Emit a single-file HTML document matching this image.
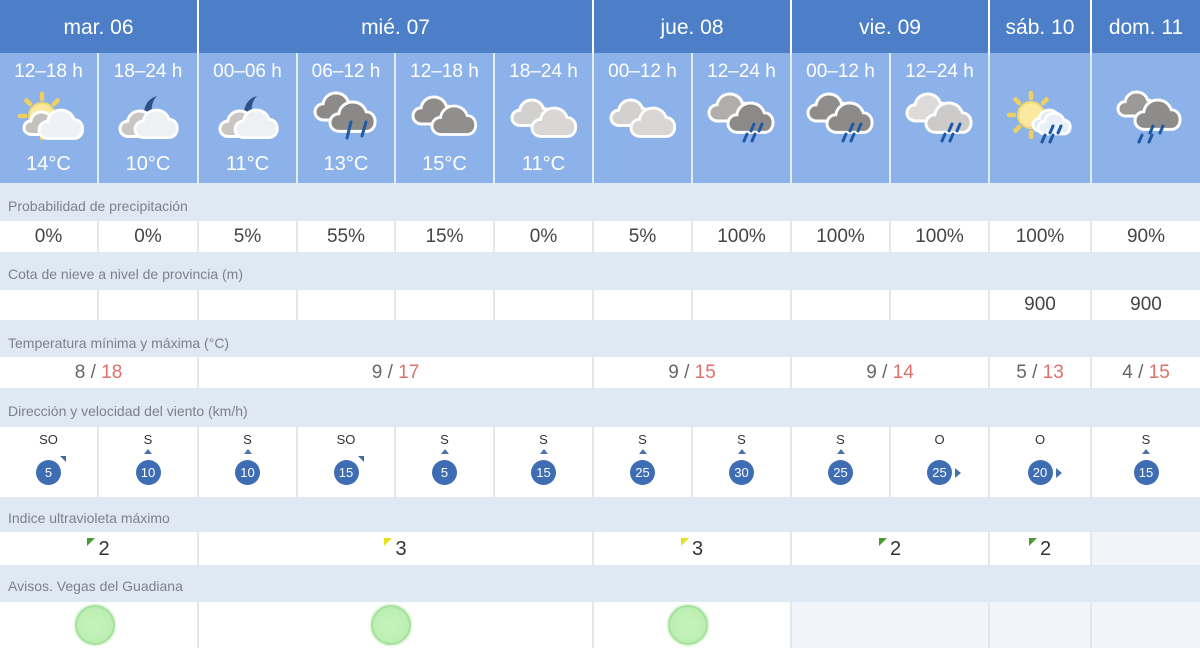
<!DOCTYPE html>
<html><head><meta charset="utf-8">
<style>
*{margin:0;padding:0;box-sizing:border-box}
html,body{width:1200px;height:658px;overflow:hidden;background:#fff;font-family:"Liberation Sans",Arial,sans-serif}
.a{position:absolute}
.hd{top:0;height:53px;background:#4d7ec8;color:#fff;font-size:21px;line-height:56px;text-align:center}
.ic{top:53px;height:130px;background:#8db2e9}
.sh{top:60px;height:24px;color:#fff;font-size:19px;line-height:24px;text-align:center}
.tp{top:152px;height:24px;color:#fff;font-size:20px;line-height:24px;text-align:center}
.lb{left:0;width:1200px;background:#dfe9f3}
.lt{left:8px;font-size:14px;line-height:20px;color:#7d8288;white-space:nowrap}
.vs{left:0;width:1200px;background:#e3e7eb}
.vc{background:#fff;text-align:center;color:#444;font-size:19px;line-height:24px}
.wd{top:432px;width:60px;text-align:center;font-size:13px;line-height:16px;color:#333}
.wc{top:460px;width:25px;height:25px;border-radius:50%;background:#3e6db4;color:#fff;font-size:13px;line-height:25px;text-align:center}
.up{top:449px;width:0;height:0;border-left:4px solid transparent;border-right:4px solid transparent;border-bottom:5px solid #4a72aa}
.ne{top:456px;width:0;height:0;border-top:6px solid #46699c;border-left:6px solid transparent}
.rt{top:468px;width:0;height:0;border-top:5px solid transparent;border-bottom:5px solid transparent;border-left:6px solid #4a72aa}
.mx{color:#e0706a}
.mn{color:#666}
.uv{top:537px;height:24px;font-size:20px;line-height:24px;color:#333;text-align:center}
.tri{display:inline-block;width:0;height:0;border-top:8px solid #4a9b2f;border-right:8px solid transparent;vertical-align:top;margin-top:1px;margin-right:3px}
.ty{border-top-color:#e4e41e}
.gc{top:605px;width:40px;height:40px;border-radius:50%;background:radial-gradient(circle,#c6f3bd 0%,#bdf0b3 60%,#aee6a4 100%);border:2px solid #a6e19d;box-shadow:0 0 3px #b2e6aa}
svg.i{position:absolute;top:88px;width:80px;height:60px}
</style></head><body>

<svg width="0" height="0" style="position:absolute">
<defs>
<path id="cl" d="M10,30 C4,30 0,26 0,21 C0,16 4,12 9,12 C10,5 16,0 23,0 C30,0 35,4 37,10 C42,10 46,14 46,20 C46,26 42,30 37,30 Z"/>
<g id="dr4" stroke="#1d59a8" stroke-width="3" stroke-linecap="round">
<path d="M52,36 L49,43"/><path d="M60,36 L57,43"/><path d="M45,46 L42,53"/><path d="M53,46 L50,53"/>
</g>
<path id="moon" d="M0,16 C1,7 6,2 13,0 C9,4 7,10 8,16 Z" fill="#2c5289"/>
</defs>
</svg>

<!-- header groups -->
<div class="a hd" style="left:0;width:197px">mar. 06</div>
<div class="a hd" style="left:199px;width:393px">mié. 07</div>
<div class="a hd" style="left:594px;width:196px">jue. 08</div>
<div class="a hd" style="left:792px;width:196px">vie. 09</div>
<div class="a hd" style="left:990px;width:100px">sáb. 10</div>
<div class="a hd" style="left:1092px;width:108px">dom. 11</div>

<!-- icon row strip -->
<div class="a" style="left:0;top:53px;width:1200px;height:130px;background:#e3edfa"></div>
<div class="a ic" style="left:0;width:97px"></div>
<div class="a ic" style="left:99px;width:98px"></div>
<div class="a ic" style="left:199px;width:97px"></div>
<div class="a ic" style="left:298px;width:96px"></div>
<div class="a ic" style="left:396px;width:97px"></div>
<div class="a ic" style="left:495px;width:97px"></div>
<div class="a ic" style="left:594px;width:97px"></div>
<div class="a ic" style="left:693px;width:97px"></div>
<div class="a ic" style="left:792px;width:97px"></div>
<div class="a ic" style="left:891px;width:97px"></div>
<div class="a ic" style="left:990px;width:100px"></div>
<div class="a ic" style="left:1092px;width:108px"></div>

<div class="a sh" style="left:0;width:97px">12–18 h</div>
<div class="a sh" style="left:99px;width:98px">18–24 h</div>
<div class="a sh" style="left:199px;width:97px">00–06 h</div>
<div class="a sh" style="left:298px;width:96px">06–12 h</div>
<div class="a sh" style="left:396px;width:97px">12–18 h</div>
<div class="a sh" style="left:495px;width:97px">18–24 h</div>
<div class="a sh" style="left:594px;width:97px">00–12 h</div>
<div class="a sh" style="left:693px;width:97px">12–24 h</div>
<div class="a sh" style="left:792px;width:97px">00–12 h</div>
<div class="a sh" style="left:891px;width:97px">12–24 h</div>

<div class="a tp" style="left:0;width:97px">14°C</div>
<div class="a tp" style="left:99px;width:98px">10°C</div>
<div class="a tp" style="left:199px;width:97px">11°C</div>
<div class="a tp" style="left:298px;width:96px">13°C</div>
<div class="a tp" style="left:396px;width:97px">15°C</div>
<div class="a tp" style="left:495px;width:97px">11°C</div>

<!-- icons -->
<svg class="i" style="left:9px" viewBox="0 0 80 60">
<g stroke="#edd060" stroke-width="4.5" stroke-linecap="round">
<path d="M33,11 L33,6"/><path d="M45,16 L48.6,12.4"/><path d="M21,16 L17.4,12.4"/><path d="M16,28 L11,28"/><path d="M21,40 L17.4,43.6"/><path d="M33,45 L33,50"/>
</g>
<circle cx="33" cy="28" r="13" fill="#fbe9a0" stroke="#f2d770" stroke-width="2"/>
<use href="#cl" transform="translate(15,24) scale(0.75)" fill="#c4c0bc" stroke="#fff" stroke-width="4"/>
<use href="#cl" transform="translate(30,22) scale(0.95)" fill="#eef1f5" stroke="#fff" stroke-width="3"/>
</svg>

<svg class="i" style="left:108px" viewBox="0 0 80 60">
<use href="#moon" transform="translate(36,8)"/>
<use href="#cl" transform="translate(12,23) scale(0.85)" fill="#c9c6c3" stroke="#fff" stroke-width="3.5"/>
<use href="#cl" transform="translate(27,22) scale(0.92)" fill="#eef1f4" stroke="#fff" stroke-width="3"/>
</svg>

<svg class="i" style="left:208px" viewBox="0 0 80 60">
<use href="#moon" transform="translate(36,8)"/>
<use href="#cl" transform="translate(12,23) scale(0.85)" fill="#c9c6c3" stroke="#fff" stroke-width="3.5"/>
<use href="#cl" transform="translate(27,22) scale(0.92)" fill="#eef1f4" stroke="#fff" stroke-width="3"/>
</svg>

<svg class="i" style="left:306px" viewBox="0 0 80 60">
<use href="#cl" transform="translate(9,5) scale(0.9)" fill="#8d8b89" stroke="#fff" stroke-width="3.3"/>
<use href="#cl" transform="translate(24,14) scale(0.98)" fill="#8b8987" stroke="#fff" stroke-width="3"/>
<g stroke="#1f5aa5" stroke-width="3" stroke-linecap="round"><path d="M45,34 L41,50"/><path d="M60,34 L56,48"/></g>
</svg>

<svg class="i" style="left:405px" viewBox="0 0 80 60">
<use href="#cl" transform="translate(8,9) scale(0.9)" fill="#8e8c8a" stroke="#fff" stroke-width="3.3"/>
<use href="#cl" transform="translate(27,18) scale(0.95)" fill="#918f8d" stroke="#fff" stroke-width="3"/>
</svg>

<svg class="i" style="left:504px" viewBox="0 0 80 60">
<use href="#cl" transform="translate(8,12) scale(0.85)" fill="#d3d1cf" stroke="#fff" stroke-width="3.5"/>
<use href="#cl" transform="translate(28,20) scale(0.95)" fill="#d9d7d5" stroke="#fff" stroke-width="3"/>
</svg>

<svg class="i" style="left:603px" viewBox="0 0 80 60">
<use href="#cl" transform="translate(8,12) scale(0.85)" fill="#d3d1cf" stroke="#fff" stroke-width="3.5"/>
<use href="#cl" transform="translate(28,20) scale(0.95)" fill="#d9d7d5" stroke="#fff" stroke-width="3"/>
</svg>

<svg class="i" style="left:702px" viewBox="0 0 80 60">
<use href="#cl" transform="translate(7,6) scale(0.9)" fill="#b0adab" stroke="#fff" stroke-width="3.3"/>
<use href="#cl" transform="translate(26,15) scale(0.98)" fill="#8c8a88" stroke="#fff" stroke-width="3"/>
<use href="#dr4"/>
</svg>

<svg class="i" style="left:801px" viewBox="0 0 80 60">
<use href="#cl" transform="translate(7,6) scale(0.9)" fill="#8f8d8b" stroke="#fff" stroke-width="3.3"/>
<use href="#cl" transform="translate(26,15) scale(0.98)" fill="#8c8a88" stroke="#fff" stroke-width="3"/>
<use href="#dr4"/>
</svg>

<svg class="i" style="left:900px" viewBox="0 0 80 60">
<use href="#cl" transform="translate(7,6) scale(0.9)" fill="#dddbd9" stroke="#fff" stroke-width="3.3"/>
<use href="#cl" transform="translate(26,15) scale(0.98)" fill="#cdcbc9" stroke="#fff" stroke-width="3"/>
<use href="#dr4"/>
</svg>

<svg class="i" style="left:1000px" viewBox="0 0 80 60">
<g stroke="#edd060" stroke-width="4.5" stroke-linecap="round">
<path d="M31,10 L31,5"/><path d="M19,15 L15.4,11.4"/><path d="M43,15 L46.6,11.4"/><path d="M14,27 L9,27"/><path d="M19,39 L15.4,42.6"/><path d="M31,44 L31,49"/>
</g>
<circle cx="31" cy="27" r="13" fill="#fbe9a0" stroke="#f2d770" stroke-width="2"/>
<use href="#cl" transform="translate(33,22) scale(0.7)" fill="#dfe9f6" stroke="#fff" stroke-width="4"/>
<use href="#cl" transform="translate(38,25) scale(0.7)" fill="#e9f0f9" stroke="#fff" stroke-width="4"/>
<g stroke="#1d59a8" stroke-width="3" stroke-linecap="round">
<path d="M53,38 L50,45"/><path d="M61,38 L58,45"/><path d="M45,47 L42,54"/><path d="M53,47 L50,54"/>
</g>
</svg>

<svg class="i" style="left:1106px" viewBox="0 0 80 60">
<use href="#cl" transform="translate(12,4) scale(0.8)" fill="#9b9997" stroke="#fff" stroke-width="3.7"/>
<use href="#cl" transform="translate(29,12) scale(0.98)" fill="#8e8c8a" stroke="#fff" stroke-width="3"/>
<g stroke="#1d59a8" stroke-width="3" stroke-linecap="round">
<path d="M47,38 L44,45"/><path d="M57,38 L54,45"/><path d="M36,47 L33,54"/><path d="M46,47 L43,54"/>
</g>
</svg>

<!-- Row 1: Probabilidad -->
<div class="a lb" style="top:183px;height:38px"></div>
<div class="a lt" style="top:196px">Probabilidad de precipitación</div>
<div class="a vs" style="top:221px;height:31px"></div>
<div class="a vc" style="top:221px;height:31px;left:0;width:97px;padding-top:4px">0%</div>
<div class="a vc" style="top:221px;height:31px;left:99px;width:98px;padding-top:4px">0%</div>
<div class="a vc" style="top:221px;height:31px;left:199px;width:97px;padding-top:4px">5%</div>
<div class="a vc" style="top:221px;height:31px;left:298px;width:96px;padding-top:4px">55%</div>
<div class="a vc" style="top:221px;height:31px;left:396px;width:97px;padding-top:4px">15%</div>
<div class="a vc" style="top:221px;height:31px;left:495px;width:97px;padding-top:4px">0%</div>
<div class="a vc" style="top:221px;height:31px;left:594px;width:97px;padding-top:4px">5%</div>
<div class="a vc" style="top:221px;height:31px;left:693px;width:97px;padding-top:4px">100%</div>
<div class="a vc" style="top:221px;height:31px;left:792px;width:97px;padding-top:4px">100%</div>
<div class="a vc" style="top:221px;height:31px;left:891px;width:97px;padding-top:4px">100%</div>
<div class="a vc" style="top:221px;height:31px;left:990px;width:100px;padding-top:4px">100%</div>
<div class="a vc" style="top:221px;height:31px;left:1092px;width:108px;padding-top:4px">90%</div>

<!-- Row 2: Cota -->
<div class="a lb" style="top:252px;height:38px"></div>
<div class="a lt" style="top:264px">Cota de nieve a nivel de provincia (m)</div>
<div class="a vs" style="top:290px;height:30px"></div>
<div class="a vc" style="top:290px;height:30px;left:0;width:97px"></div>
<div class="a vc" style="top:290px;height:30px;left:99px;width:98px"></div>
<div class="a vc" style="top:290px;height:30px;left:199px;width:97px"></div>
<div class="a vc" style="top:290px;height:30px;left:298px;width:96px"></div>
<div class="a vc" style="top:290px;height:30px;left:396px;width:97px"></div>
<div class="a vc" style="top:290px;height:30px;left:495px;width:97px"></div>
<div class="a vc" style="top:290px;height:30px;left:594px;width:97px"></div>
<div class="a vc" style="top:290px;height:30px;left:693px;width:97px"></div>
<div class="a vc" style="top:290px;height:30px;left:792px;width:97px"></div>
<div class="a vc" style="top:290px;height:30px;left:891px;width:97px"></div>
<div class="a vc" style="top:290px;height:30px;left:990px;width:100px;padding-top:3px">900</div>
<div class="a vc" style="top:290px;height:30px;left:1092px;width:108px;padding-top:3px">900</div>

<!-- Row 3: Temperatura -->
<div class="a lb" style="top:320px;height:37px"></div>
<div class="a lt" style="top:333px">Temperatura mínima y máxima (°C)</div>
<div class="a vs" style="top:357px;height:31px"></div>
<div class="a vc" style="top:357px;height:31px;left:0;width:197px;padding-top:4px"><span class="mn">8 / </span><span class="mx">18</span></div>
<div class="a vc" style="top:357px;height:31px;left:199px;width:393px;padding-top:4px"><span class="mn">9 / </span><span class="mx">17</span></div>
<div class="a vc" style="top:357px;height:31px;left:594px;width:196px;padding-top:4px"><span class="mn">9 / </span><span class="mx">15</span></div>
<div class="a vc" style="top:357px;height:31px;left:792px;width:196px;padding-top:4px"><span class="mn">9 / </span><span class="mx">14</span></div>
<div class="a vc" style="top:357px;height:31px;left:990px;width:100px;padding-top:4px"><span class="mn">5 / </span><span class="mx">13</span></div>
<div class="a vc" style="top:357px;height:31px;left:1092px;width:108px;padding-top:4px"><span class="mn">4 / </span><span class="mx">15</span></div>

<!-- Row 4: Viento -->
<div class="a lb" style="top:388px;height:39px"></div>
<div class="a lt" style="top:401px">Dirección y velocidad del viento (km/h)</div>
<div class="a vs" style="top:427px;height:70px"></div>
<div class="a vc" style="top:427px;height:70px;left:0;width:97px"></div>
<div class="a vc" style="top:427px;height:70px;left:99px;width:98px"></div>
<div class="a vc" style="top:427px;height:70px;left:199px;width:97px"></div>
<div class="a vc" style="top:427px;height:70px;left:298px;width:96px"></div>
<div class="a vc" style="top:427px;height:70px;left:396px;width:97px"></div>
<div class="a vc" style="top:427px;height:70px;left:495px;width:97px"></div>
<div class="a vc" style="top:427px;height:70px;left:594px;width:97px"></div>
<div class="a vc" style="top:427px;height:70px;left:693px;width:97px"></div>
<div class="a vc" style="top:427px;height:70px;left:792px;width:97px"></div>
<div class="a vc" style="top:427px;height:70px;left:891px;width:97px"></div>
<div class="a vc" style="top:427px;height:70px;left:990px;width:100px"></div>
<div class="a vc" style="top:427px;height:70px;left:1092px;width:108px"></div>

<!-- wind c0 48.5 SO 5 -->
<div class="a wd" style="left:18.5px">SO</div>
<div class="a wc" style="left:36px">5</div>
<div class="a ne" style="left:60px"></div>
<!-- c1 148 S 10 -->
<div class="a wd" style="left:118px">S</div>
<div class="a up" style="left:144px"></div>
<div class="a wc" style="left:135.5px">10</div>
<!-- c2 247.5 S 10 -->
<div class="a wd" style="left:217.5px">S</div>
<div class="a up" style="left:243.5px"></div>
<div class="a wc" style="left:235px">10</div>
<!-- c3 346 SO 15 -->
<div class="a wd" style="left:316px">SO</div>
<div class="a wc" style="left:333.5px">15</div>
<div class="a ne" style="left:357.5px"></div>
<!-- c4 444.5 S 5 -->
<div class="a wd" style="left:414.5px">S</div>
<div class="a up" style="left:440.5px"></div>
<div class="a wc" style="left:432px">5</div>
<!-- c5 543.5 S 15 -->
<div class="a wd" style="left:513.5px">S</div>
<div class="a up" style="left:539.5px"></div>
<div class="a wc" style="left:531px">15</div>
<!-- c6 642.5 S 25 -->
<div class="a wd" style="left:612.5px">S</div>
<div class="a up" style="left:638.5px"></div>
<div class="a wc" style="left:630px">25</div>
<!-- c7 741.5 S 30 -->
<div class="a wd" style="left:711.5px">S</div>
<div class="a up" style="left:737.5px"></div>
<div class="a wc" style="left:729px">30</div>
<!-- c8 840.5 S 25 -->
<div class="a wd" style="left:810.5px">S</div>
<div class="a up" style="left:836.5px"></div>
<div class="a wc" style="left:828px">25</div>
<!-- c9 939.5 O 25 -->
<div class="a wd" style="left:909.5px">O</div>
<div class="a wc" style="left:927px">25</div>
<div class="a rt" style="left:955px"></div>
<!-- c10 1040 O 20 -->
<div class="a wd" style="left:1010px">O</div>
<div class="a wc" style="left:1027.5px">20</div>
<div class="a rt" style="left:1055.5px"></div>
<!-- c11 1146 S 15 -->
<div class="a wd" style="left:1116px">S</div>
<div class="a up" style="left:1142px"></div>
<div class="a wc" style="left:1133.5px">15</div>

<!-- Row 5: UV -->
<div class="a lb" style="top:497px;height:35px"></div>
<div class="a lt" style="top:508px">Indice ultravioleta máximo</div>
<div class="a vs" style="top:532px;height:33px"></div>
<div class="a vc" style="top:532px;height:33px;left:0;width:197px"></div>
<div class="a vc" style="top:532px;height:33px;left:199px;width:393px"></div>
<div class="a vc" style="top:532px;height:33px;left:594px;width:196px"></div>
<div class="a vc" style="top:532px;height:33px;left:792px;width:196px"></div>
<div class="a vc" style="top:532px;height:33px;left:990px;width:100px"></div>
<div class="a" style="top:532px;height:33px;left:1092px;width:108px;background:#f1f5fb"></div>
<div class="a uv" style="left:0;width:197px"><span class="tri"></span>2</div>
<div class="a uv" style="left:199px;width:393px"><span class="tri ty"></span>3</div>
<div class="a uv" style="left:594px;width:196px"><span class="tri ty"></span>3</div>
<div class="a uv" style="left:792px;width:196px"><span class="tri"></span>2</div>
<div class="a uv" style="left:990px;width:100px"><span class="tri"></span>2</div>

<!-- Row 6: Avisos -->
<div class="a lb" style="top:565px;height:37px"></div>
<div class="a lt" style="top:576px">Avisos. Vegas del Guadiana</div>
<div class="a vs" style="top:602px;height:46px"></div>
<div class="a vc" style="top:602px;height:46px;left:0;width:197px"></div>
<div class="a vc" style="top:602px;height:46px;left:199px;width:393px"></div>
<div class="a vc" style="top:602px;height:46px;left:594px;width:196px"></div>
<div class="a" style="top:602px;height:46px;left:792px;width:196px;background:#f1f5fb"></div>
<div class="a" style="top:602px;height:46px;left:990px;width:100px;background:#f1f5fb"></div>
<div class="a" style="top:602px;height:46px;left:1092px;width:108px;background:#f1f5fb"></div>
<div class="a gc" style="left:75px"></div>
<div class="a gc" style="left:371px"></div>
<div class="a gc" style="left:668px"></div>

</body></html>
